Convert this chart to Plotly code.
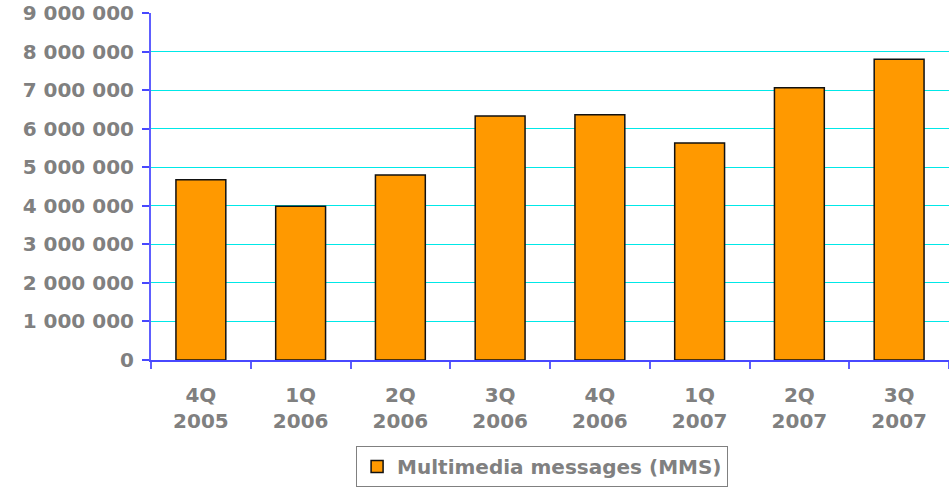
import plotly.graph_objects as go

quarters = ["4Q<br>2005", "1Q<br>2006", "2Q<br>2006", "3Q<br>2006",
            "4Q<br>2006", "1Q<br>2007", "2Q<br>2007", "3Q<br>2007"]
mms = [4675000, 3990000, 4800000, 6330000, 6360000, 5630000, 7060000, 7800000]
series_name = "Multimedia messages (MMS)"
y_ticks = [0, 1000000, 2000000, 3000000, 4000000, 5000000, 6000000, 7000000, 8000000, 9000000]
y_tick_labels = ["0", "1 000 000", "2 000 000", "3 000 000", "4 000 000",
                 "5 000 000", "6 000 000", "7 000 000", "8 000 000", "9 000 000"]

font = dict(family="DejaVu Sans", size=20, color="#808080", weight="bold")

fig = go.Figure()
fig.add_trace(go.Bar(
    x=quarters, y=mms, name=series_name,
    marker=dict(color="#ff9900", line=dict(color="#111111", width=1.5)),
    showlegend=True,
))

fig.update_layout(
    width=949, height=487,
    margin=dict(l=151, r=0, t=13, b=127),
    plot_bgcolor="white", paper_bgcolor="white",
    bargap=0.5,
    font=font,
    showlegend=True,
    legend=dict(
        orientation="h", x=0.257, xanchor="left", xref="paper",
        y=0, yanchor="bottom", yref="container",
        bordercolor="#808080", borderwidth=1,
        font=font, itemwidth=30,
    ),
)
fig.update_yaxes(
    range=[0, 9000000], tickvals=y_ticks, ticktext=y_tick_labels,
    showgrid=True, gridcolor="#00e8e8", gridwidth=1,
    showline=True, linecolor="rgba(40,40,255,0.75)", linewidth=2,
    ticks="outside", ticklen=7, tickcolor="rgba(40,40,255,0.85)", tickwidth=1.5,
    ticklabelstandoff=4, zeroline=False, tickfont=font, automargin=False,
)
fig.update_xaxes(
    showline=True, linecolor="rgba(40,40,255,0.85)", linewidth=1.5,
    ticks="outside", tickson="boundaries", ticklen=7, tickwidth=1.5,
    tickcolor="rgba(40,40,255,0.75)", tickfont=font, showgrid=False,
    ticklabelstandoff=16, automargin=False,
)

fig.write_html(
    "out.html",
    config={"displayModeBar": False},
    post_script="document.body.style.margin='0';document.body.style.overflow='hidden';",
)
